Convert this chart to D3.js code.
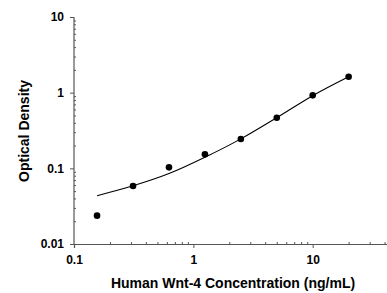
<!DOCTYPE html>
<html><head><meta charset="utf-8">
<script src="https://cdnjs.cloudflare.com/ajax/libs/d3/7.8.5/d3.min.js"></script>
<style>body{margin:0;background:#fff}svg{display:block}text{font-family:"Liberation Sans",Arial,sans-serif;font-weight:bold;fill:#000}</style>
</head><body><svg id="c" width="387" height="293"></svg>
<script>
const concentrations = [0.156, 0.3125, 0.625, 1.25, 2.5, 5, 10, 20];
const odValues = [0.0237, 0.0584, 0.103, 0.153, 0.244, 0.467, 0.922, 1.625];
const fitValues = [0.0435, 0.0587, 0.0852, 0.140, 0.245, 0.467, 0.912, 1.62];
const xTickValues = [0.1, 1, 10];
const xTickLabels = ["0.1", "1", "10"];
const yTickValues = [0.01, 0.1, 1, 10];
const yTickLabels = ["0.01", "0.1", "1", "10"];
const xTitle = "Human Wnt-4 Concentration (ng/mL)";
const yTitle = "Optical Density";

const svg = d3.select("#c");
const x = d3.scaleLog().domain([0.1, 100]).range([74, 74 + 3 * 119.35]);
const y = d3.scaleLog().domain([0.01, 10]).range([244, 17]);
const axisColor = "#555";

function minorTicks(lo, hi) {
  const t = [];
  for (let d = lo; d < hi; d *= 10) for (let k = 2; k <= 9; k++) t.push(d * k);
  return t;
}

// X axis
const gx = svg.append("g").attr("transform", `translate(0,${y(0.01)})`);
gx.call(d3.axisBottom(x).tickValues(xTickValues).tickSize(4).tickFormat((d, i) => xTickLabels[i]));
const gxm = svg.append("g").attr("transform", `translate(0,${y(0.01)})`);
gxm.call(d3.axisTop(x).tickValues(minorTicks(0.1, 100)).tickSize(2).tickFormat(""));
// Y axis
const gy = svg.append("g").attr("transform", `translate(${x(0.1)},0)`);
gy.call(d3.axisLeft(y).tickValues(yTickValues).tickSize(4).tickFormat((d, i) => yTickLabels[i]));
const gym = svg.append("g").attr("transform", `translate(${x(0.1)},0)`);
gym.call(d3.axisRight(y).tickValues(minorTicks(0.01, 10)).tickSize(2).tickFormat(""));

svg.selectAll(".domain").attr("stroke", axisColor).attr("stroke-width", 1.2);
gxm.select(".domain").remove(); gym.select(".domain").remove();
gy.select(".domain").attr("d", `M-0,${y(10)}H0V${y(0.01)}`);
svg.selectAll(".tick line").attr("stroke", axisColor);
gx.selectAll(".tick text").attr("font-size", 12).attr("font-weight", "bold").attr("font-family", "Liberation Sans, Arial, sans-serif").attr("dy", "1.1em").attr("fill", "#000");
gy.selectAll(".tick text").attr("font-size", 12).attr("font-weight", "bold").attr("font-family", "Liberation Sans, Arial, sans-serif").attr("x", -10).attr("fill", "#000");

// Fit curve
const line = d3.line().x(d => x(d[0])).y(d => y(d[1])).curve(d3.curveMonotoneX);
svg.append("path").datum(concentrations.map((c, i) => [c, fitValues[i]]))
  .attr("d", line).attr("fill", "none").attr("stroke", "#000").attr("stroke-width", 1.1);

// Points
svg.selectAll("circle.pt").data(concentrations).enter().append("circle")
  .attr("class", "pt").attr("cx", d => x(d)).attr("cy", (d, i) => y(odValues[i]))
  .attr("r", 3.3).attr("fill", "#000");

// Titles
svg.append("text").attr("x", 233).attr("y", 288).attr("text-anchor", "middle")
  .attr("font-size", 14).text(xTitle);
svg.append("text").attr("transform", "translate(29,131) rotate(-90)").attr("text-anchor", "middle")
  .attr("font-size", 14).text(yTitle);
</script></body></html>
